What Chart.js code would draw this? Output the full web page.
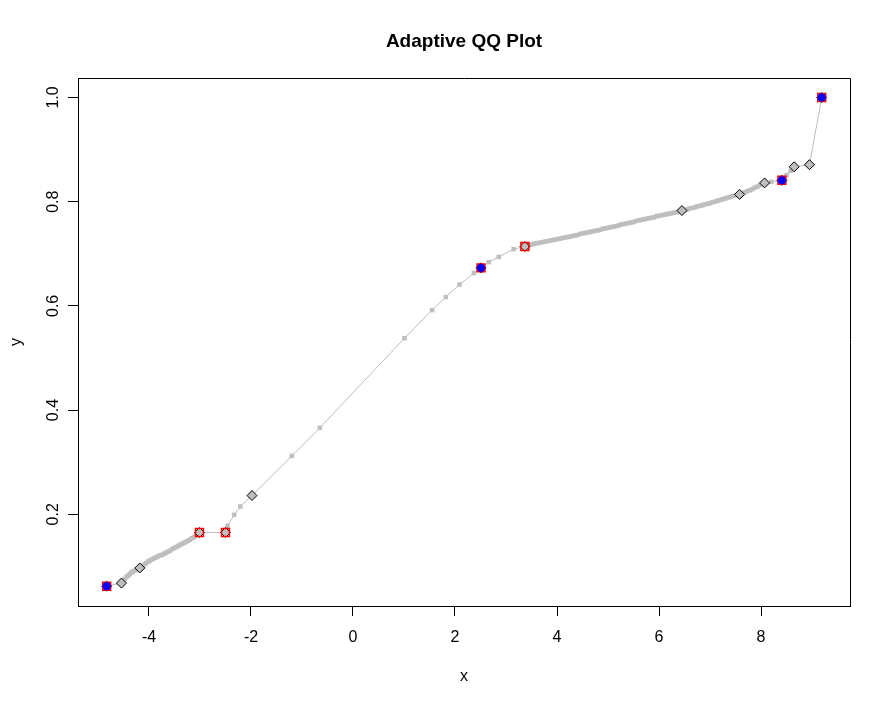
<!DOCTYPE html>
<html>
<head>
<meta charset="utf-8">
<script src="https://cdn.jsdelivr.net/npm/chart.js@4/dist/chart.umd.min.js"></script>
<style>
  html, body { margin: 0; padding: 0; background: #ffffff; }
  canvas { display: block; }
</style>
</head>
<body>
<canvas id="c" width="891" height="704"></canvas>
<script>
// ---- data ----
const qqX = [-4.83, -4.54, -4.50, -4.47, -4.44, -4.41, -4.38, -4.35, -4.32, -4.28, -4.24, -4.21, -4.18, -4.14, -4.10, -4.06, -4.02, -3.99, -3.95, -3.91, -3.87, -3.83, -3.79, -3.75, -3.71, -3.67, -3.63, -3.59, -3.55, -3.51, -3.47, -3.43, -3.40, -3.36, -3.32, -3.28, -3.24, -3.20, -3.16, -3.12, -3.08, -3.05, -3.01,
  -2.50, -2.46, -2.33, -2.21, -1.98, -1.20, -0.65, 1.01, 1.55, 1.82, 2.09, 2.37, 2.51, 2.66, 2.86, 3.15, 3.37,
  3.40, 3.45, 3.50, 3.55, 3.60, 3.65, 3.70, 3.75, 3.80, 3.85, 3.90, 3.95, 4.00, 4.05, 4.10, 4.15, 4.20, 4.25, 4.30, 4.35, 4.40, 4.45, 4.50, 4.55, 4.60, 4.65, 4.70, 4.75, 4.80, 4.85, 4.90, 4.95,
  5.00, 5.05, 5.10, 5.15, 5.20, 5.25, 5.30, 5.35, 5.40, 5.45, 5.50, 5.55, 5.60, 5.65, 5.70, 5.75, 5.80, 5.85, 5.90, 5.95,
  6.00, 6.05, 6.10, 6.15, 6.20, 6.25, 6.30, 6.35, 6.40, 6.45, 6.50, 6.55, 6.60, 6.65, 6.70, 6.75, 6.80, 6.85, 6.90, 6.95,
  7.00, 7.05, 7.10, 7.15, 7.20, 7.25, 7.30, 7.35, 7.40, 7.45, 7.50, 7.58, 7.63, 7.68, 7.73, 7.78, 7.83, 7.88, 7.93, 7.98,
  8.03, 8.07, 8.20, 8.41, 8.50, 8.58, 8.65, 8.95, 9.19];
const qqY = [0.062, 0.068, 0.073, 0.076, 0.080, 0.082, 0.085, 0.088, 0.090, 0.092, 0.094, 0.095, 0.097, 0.100, 0.103, 0.106, 0.109, 0.111, 0.113, 0.115, 0.117, 0.119, 0.121, 0.122, 0.124, 0.126, 0.128, 0.130, 0.133, 0.135, 0.137, 0.139, 0.141, 0.143, 0.145, 0.147, 0.149, 0.151, 0.154, 0.156, 0.159, 0.161, 0.165,
  0.165, 0.178, 0.199, 0.215, 0.236, 0.312, 0.366, 0.538, 0.592, 0.617, 0.641, 0.663, 0.673, 0.684, 0.694, 0.709, 0.714,
  0.716, 0.717, 0.718, 0.719, 0.720, 0.721, 0.722, 0.723, 0.724, 0.725, 0.726, 0.727, 0.728, 0.729, 0.730, 0.731, 0.732, 0.733, 0.734, 0.735, 0.736, 0.738, 0.739, 0.740, 0.741, 0.742, 0.743, 0.744, 0.745, 0.746, 0.748, 0.749,
  0.750, 0.751, 0.752, 0.753, 0.754, 0.756, 0.757, 0.758, 0.759, 0.760, 0.761, 0.763, 0.764, 0.765, 0.766, 0.767, 0.768, 0.769, 0.770, 0.772,
  0.773, 0.774, 0.775, 0.776, 0.777, 0.778, 0.779, 0.780, 0.782, 0.783, 0.784, 0.785, 0.787, 0.788, 0.789, 0.791, 0.792, 0.793, 0.795, 0.796,
  0.797, 0.799, 0.800, 0.802, 0.803, 0.805, 0.806, 0.808, 0.809, 0.811, 0.812, 0.814, 0.816, 0.818, 0.820, 0.822, 0.824, 0.827, 0.829, 0.832,
  0.834, 0.836, 0.838, 0.841, 0.851, 0.859, 0.867, 0.871, 1.000];

const diamondX = [-4.83, -4.54, -4.18, -3.01, -2.50, -1.98, 2.51, 3.37, 6.45, 7.58, 8.07, 8.41, 8.65, 8.95, 9.19];
const diamondY = [0.062, 0.068, 0.097, 0.165, 0.165, 0.236, 0.673, 0.714, 0.783, 0.814, 0.836, 0.841, 0.867, 0.871, 1.000];

const redX = [-4.83, -3.01, -2.50, 2.51, 3.37, 8.41, 9.19];
const redY = [0.062, 0.165, 0.165, 0.673, 0.714, 0.841, 1.000];

const blueX = [-4.83, 2.51, 8.41, 9.19];
const blueY = [0.062, 0.673, 0.841, 1.000];

const xTicks = [-4, -2, 0, 2, 4, 6, 8];
const yTicks = [0.2, 0.4, 0.6, 0.8, 1.0];

const titleText = 'Adaptive QQ Plot';
const xLabel = 'x';
const yLabel = 'y';

// ---- chart ----
const pts = (xs, ys) => xs.map((x, i) => ({ x: x, y: ys[i] }));
const FAMILY = '"Liberation Sans", Arial, Helvetica, sans-serif';
const baseFont = { family: FAMILY, size: 16 };

const framePlugin = {
  id: 'frame',
  afterDraw(chart) {
    const { ctx, chartArea: a } = chart;
    ctx.save();
    ctx.strokeStyle = '#000';
    ctx.lineWidth = 1;
    ctx.beginPath();
    const l = Math.round(a.left) + 0.5, r = Math.round(a.right) + 0.5;
    const t = Math.round(a.top) + 0.5, b = Math.round(a.bottom) + 0.5;
    ctx.moveTo(l, b); ctx.lineTo(l, t); ctx.lineTo(r, t); ctx.lineTo(r, b); ctx.lineTo(l, b);
    ctx.stroke();
    ctx.restore();
  }
};

new Chart(document.getElementById('c'), {
  type: 'scatter',
  data: {
    datasets: [
      {
        label: 'blue', data: pts(blueX, blueY), order: 0, showLine: false,
        pointStyle: 'circle', pointRadius: 3.9, pointBackgroundColor: '#0000FF',
        pointBorderColor: '#0000FF', pointBorderWidth: 0.5
      },
      {
        label: 'red', data: pts(redX, redY), order: 1, showLine: false,
        pointStyle: 'rect', pointRadius: 5.6, pointBackgroundColor: 'rgba(0,0,0,0)',
        pointBorderColor: '#FF0000', pointBorderWidth: 1.5
      },
      {
        label: 'diamond', data: pts(diamondX, diamondY), order: 3, showLine: false,
        pointStyle: 'rectRot', pointRadius: 5, pointBackgroundColor: '#BEBEBE',
        pointBorderColor: '#000000', pointBorderWidth: 1
      },
      {
        label: 'qq', data: pts(qqX, qqY), order: 4, showLine: true,
        borderColor: '#BEBEBE', borderWidth: 1, tension: 0,
        pointStyle: 'rect', pointRadius: 3.2, pointBackgroundColor: '#BEBEBE',
        pointBorderColor: '#BEBEBE', pointBorderWidth: 0
      }
    ]
  },
  options: {
    responsive: false,
    animation: false,
    devicePixelRatio: 1,
    events: [],
    layout: { padding: { left: 0, right: 41, top: 0, bottom: 0 } },
    plugins: {
      legend: { display: false },
      tooltip: { enabled: false },
      title: {
        display: true, text: titleText, fullSize: false, color: '#000',
        font: { family: FAMILY, size: 19, weight: 'bold' },
        padding: { top: 30.2, bottom: 25 }
      }
    },
    scales: {
      x: {
        type: 'linear', position: 'bottom', min: -5.392, max: 9.745,
        afterBuildTicks: s => { s.ticks = xTicks.map(v => ({ value: v })); },
        afterFit: s => { s.height = 98; },
        grid: { display: true, drawOnChartArea: false, drawTicks: true, tickLength: 10, color: '#000', tickColor: '#000', tickWidth: 1 },
        border: { display: true, color: '#000', width: 1 },
        ticks: { padding: 12, font: baseFont, color: '#000', maxRotation: 0, minRotation: 0, autoSkip: false, callback: v => String(v) },
        title: { display: true, text: xLabel, font: baseFont, color: '#000', padding: { top: 0, bottom: 17.4 } }
      },
      y: {
        type: 'linear', position: 'left', min: 0.0240, max: 1.0374,
        afterBuildTicks: s => { s.ticks = yTicks.map(v => ({ value: v })); },
        afterFit: s => { s.width = 78; },
        grid: { display: true, drawOnChartArea: false, drawTicks: true, tickLength: 10, color: '#000', tickColor: '#000', tickWidth: 1 },
        border: { display: true, color: '#000', width: 1 },
        ticks: { padding: 3.5, font: baseFont, color: '#000', minRotation: 90, maxRotation: 90, crossAlign: 'center', autoSkip: false, callback: v => Number(v).toFixed(1) },
        title: { display: true, text: yLabel, font: baseFont, color: '#000', padding: { top: 7.4, bottom: 0 } }
      }
    }
  },
  plugins: [framePlugin]
});
</script>
</body>
</html>
